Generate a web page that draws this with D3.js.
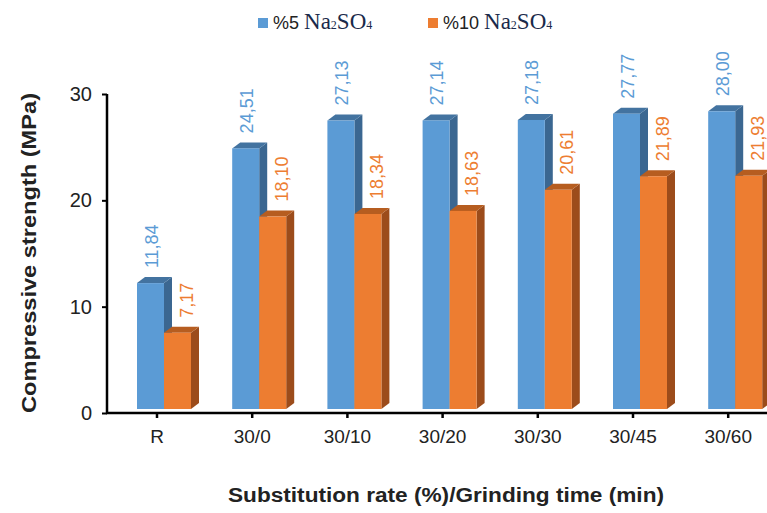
<!DOCTYPE html>
<html>
<head>
<meta charset="utf-8">
<script src="https://cdn.jsdelivr.net/npm/d3@7"></script>
<style>
  body { margin: 0; background: #fff; }
  svg { display: block; }
</style>
</head>
<body>
<div id="chart"></div>
<script>
// Chart data
var categories = ["R", "30/0", "30/10", "30/20", "30/30", "30/45", "30/60"];
var na5 = [11.84, 24.51, 27.13, 27.14, 27.18, 27.77, 28.00];
var na10 = [7.17, 18.10, 18.34, 18.63, 20.61, 21.89, 21.93];
var na5Labels = ["11,84", "24,51", "27,13", "27,14", "27,18", "27,77", "28,00"];
var na10Labels = ["7,17", "18,10", "18,34", "18,63", "20,61", "21,89", "21,93"];
var yTicks = [0, 10, 20, 30];

var svgWidth = 767;
var svgHeight = 513;

var svg = d3.select("#chart")
  .append("svg")
  .attr("width", svgWidth)
  .attr("height", svgHeight);

// Scales
var xScale = d3.scaleBand()
  .domain(categories)
  .range([109.4, 775.8])
  .padding(0);

var yScale = d3.scaleLinear()
  .domain([0, 30])
  .range([413, 94]);

var barW = 27;
var depthX = 8, depthY = -6;
var lift = -4;

var series = [
  { values: na5, labels: na5Labels, off: -20, front: "#5b9bd5", side: "#3b6791", top: "#4373a0", text: "#5b9bd5", lab: 0 },
  { values: na10, labels: na10Labels, off: 7, front: "#ed7d31", side: "#9c4c1b", top: "#b65d20", text: "#ed7d31", lab: 8 }
];

function cx(c) { return xScale(c) + xScale.bandwidth() / 2; }

// 3D bars
series.forEach(function(s) {
  var g = svg.append("g");
  categories.forEach(function(c, i) {
    var x0 = cx(c) + s.off;
    var x1 = x0 + barW;
    var yt = yScale(s.values[i]) + lift;
    var yb = yScale(0) + lift;
    // side face
    g.append("path")
      .attr("d", `M${x1},${yt} L${x1 + depthX},${yt + depthY} L${x1 + depthX},${yb + depthY} L${x1},${yb} Z`)
      .attr("fill", s.side);
    // top face
    g.append("path")
      .attr("d", `M${x0},${yt} L${x0 + depthX},${yt + depthY} L${x1 + depthX},${yt + depthY} L${x1},${yt} Z`)
      .attr("fill", s.top);
    // front face
    g.append("rect")
      .attr("x", x0)
      .attr("y", yt)
      .attr("width", barW)
      .attr("height", yb - yt)
      .attr("fill", s.front);
    // value label (rotated)
    var lx = x0 + barW / 2 + s.lab + 7;
    var ly = yt + depthY - 9;
    svg.append("text")
      .attr("transform", `translate(${lx},${ly}) rotate(-90)`)
      .attr("font-family", "Liberation Sans, Arial, sans-serif")
      .attr("font-size", 18)
      .attr("fill", s.text)
      .text(s.labels[i]);
  });
});

// Axes
var leftAxis = d3.axisLeft(yScale)
  .tickValues(yTicks)
  .tickSize(5)
  .tickPadding(10);

var yAxisG = svg.append("g")
  .attr("transform", "translate(107,0)")
  .call(leftAxis);
yAxisG.select(".domain").attr("d", "M0,94V413").attr("stroke", "#000").attr("stroke-width", 2.5);
yAxisG.selectAll(".tick line").attr("stroke", "#000").attr("stroke-width", 2);
yAxisG.selectAll(".tick text")
  .attr("font-family", "Liberation Sans, Arial, sans-serif")
  .attr("font-size", 20)
  .attr("fill", "#222");

var bottomAxis = d3.axisBottom(xScale)
  .tickSize(5)
  .tickPadding(12);

var xAxisG = svg.append("g")
  .attr("transform", "translate(0,413)")
  .call(bottomAxis);
xAxisG.select(".domain").attr("d", "M106,0H767").attr("stroke", "#000").attr("stroke-width", 2.5);
xAxisG.selectAll(".tick line").attr("stroke", "#000").attr("stroke-width", 2.5);
xAxisG.selectAll(".tick text")
  .attr("font-family", "Liberation Sans, Arial, sans-serif")
  .attr("font-size", 19)
  .attr("fill", "#222");

// Axis titles
svg.append("text")
  .attr("transform", "translate(36,253) rotate(-90)")
  .attr("text-anchor", "middle")
  .attr("font-family", "Liberation Sans, Arial, sans-serif")
  .attr("font-weight", "bold")
  .attr("font-size", 20)
  .attr("fill", "#222")
  .attr("textLength", 320)
  .attr("lengthAdjust", "spacingAndGlyphs")
  .text("Compressive  strength  (MPa)");

svg.append("text")
  .attr("x", 446)
  .attr("y", 502)
  .attr("text-anchor", "middle")
  .attr("font-family", "Liberation Sans, Arial, sans-serif")
  .attr("font-weight", "bold")
  .attr("font-size", 20)
  .attr("fill", "#222")
  .attr("textLength", 436)
  .attr("lengthAdjust", "spacingAndGlyphs")
  .text("Substitution  rate (%)/Grinding  time (min)");

// Legend
var legend = [
  { x: 258, color: "#5b9bd5", pct: "%5" },
  { x: 428, color: "#ed7d31", pct: "%10" }
];
legend.forEach(function(l) {
  svg.append("rect")
    .attr("x", l.x).attr("y", 18)
    .attr("width", 10).attr("height", 10)
    .attr("fill", l.color);
  var t = svg.append("text")
    .attr("x", l.x + 15)
    .attr("y", 29)
    .attr("fill", "#222");
  t.append("tspan")
    .attr("font-family", "Liberation Sans, Arial, sans-serif")
    .attr("font-size", 18)
    .text(l.pct + " ");
  t.append("tspan")
    .attr("font-family", "Liberation Serif, Times New Roman, serif")
    .attr("font-size", 23)
    .attr("fill", "#1a2a4a")
    .text("Na");
  t.append("tspan")
    .attr("font-family", "Liberation Serif, Times New Roman, serif")
    .attr("font-size", 12)
    .attr("fill", "#1a2a4a")
    .text("2");
  t.append("tspan")
    .attr("font-family", "Liberation Serif, Times New Roman, serif")
    .attr("font-size", 23)
    .attr("fill", "#1a2a4a")
    .text("SO");
  t.append("tspan")
    .attr("font-family", "Liberation Serif, Times New Roman, serif")
    .attr("font-size", 12)
    .attr("fill", "#1a2a4a")
    .text("4");
});
</script>
</body>
</html>
